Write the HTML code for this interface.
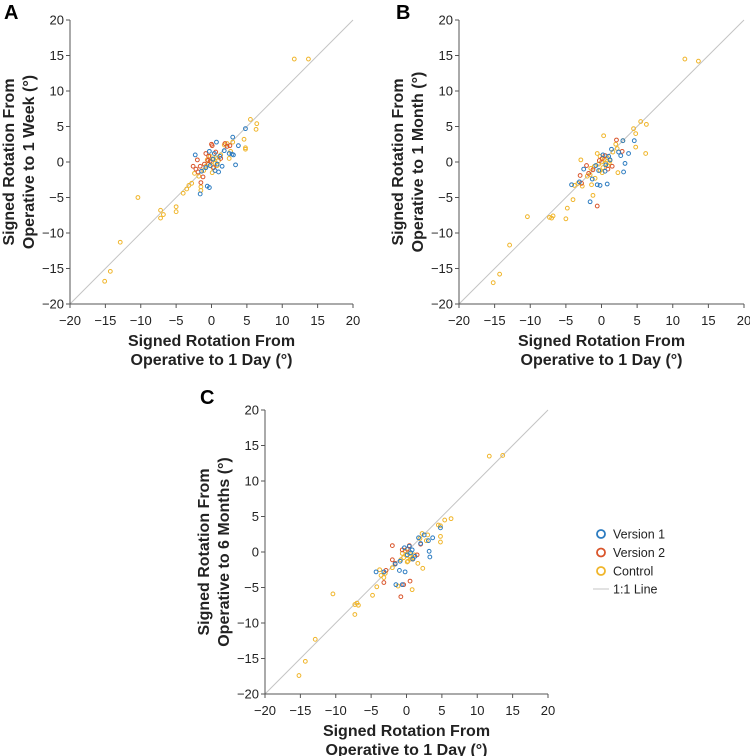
<!DOCTYPE html>
<html><head><meta charset="utf-8"><style>
html,body{margin:0;padding:0;background:#fff}
svg{display:block;font-family:"Liberation Sans",Arial,sans-serif}
</style></head><body>
<svg id="chart" width="750" height="756" viewBox="0 0 750 756"></svg>
<script>
const ticks=[-20,-15,-10,-5,0,5,10,15,20];
const tickLabels=["\u221220","\u221215","\u221210","\u22125","0","5","10","15","20"];
const panelLetters=["A","B","C"];
const yTitles=["Operative to 1 Week (\u00b0)","Operative to 1 Month (\u00b0)","Operative to 6 Months (\u00b0)"];
const seriesNames=["Version 1","Version 2","Control"];
const colors=["#2b7bc0","#d9542a","#f0b52a"];
// Panel A
const aV1x=[4.8,3,0.7,-2.3,-0.6,-0.3,-1.6,3.4,3.8,3.1,2.9,0.5,1,1.2,-0.3,0.4,-0.8,1.5,2.5,-1.4,0.8,0.2,-0.2,1.8];
const aV1y=[4.7,3.5,2.8,1,-3.4,-3.6,-4.5,-0.4,2.3,1.0,1.1,-1.2,-1.4,0.8,1.5,1.2,-0.8,-0.6,1.2,-1.3,-0.3,0.4,-0.5,1.6];
const aV2x=[-2.6,-2,-1.9,-1.5,0.1,0,-0.8,-0.4,2.2,2.6,1.9,-1.2,-1,-0.5,0.6,1.3,-1.6,-2.2,0.3,-0.2];
const aV2y=[-0.6,0.3,-1.4,-2.9,2.3,2.5,1.2,0.8,2.2,2.3,2.6,-2.1,-0.3,0.2,1.4,0.5,-0.6,-1,-0.8,0.1];
const aCx=[11.7,13.7,5.5,6.4,6.3,4.6,4.8,4.8,-10.4,-7.2,-7.2,-6.8,-5,-5,-12.9,-14.3,-15.1,-4,-3.5,-3.2,-2.8,-1.5,-1.5,3,2.2,1.8,2.7,2.5,0,0.3,-0.4,0.6,-0.8,1,0.2,-0.2,0.5,-1.1,1.3,-0.6,0.8,0.1,-1.8,-2.4];
const aCy=[14.5,14.5,6,5.4,4.6,3.2,2,1.8,-5,-6.8,-7.9,-7.4,-6.3,-7,-11.3,-15.4,-16.8,-4.4,-3.8,-3.3,-3,-3.5,-4,2.8,2.6,2.4,1.5,0.5,0,0.4,-0.3,0.6,-0.6,0.2,-0.8,0.8,-0.2,-1.2,1,0.3,-0.5,-1.5,-2,-1.6];
// Panel B
const bV1x=[4.6,3,1.4,-1.6,-0.6,-0.2,-4.2,-3.1,0.8,2.7,3.3,3.8,3.1,0.5,1.0,-0.8,1.2,0.2,-0.4,-1.3,2.4,0.6,-2.5];
const bV1y=[3,3,1.8,-5.6,-3.2,-3.3,-3.2,-2.8,-3.1,0.9,-0.2,1.2,-1.4,-1.3,0.8,-0.5,0.3,1,-1.2,-2.4,1.4,-0.4,-1];
const bV2x=[2.1,-0.6,-2.1,-1.8,-1.2,-3,0.5,0.1,2.9,-0.3,1.5,-2.8,0.9];
const bV2y=[3.1,-6.2,-0.5,-1.6,-1.1,-1.9,0.9,0.5,1.5,0.2,-0.6,-3,-1];
const bCx=[11.7,13.6,5.5,6.3,6.2,4.5,4.8,4.8,-10.4,-7.3,-7,-6.8,-5,-4.8,-12.9,-14.3,-15.2,-4,-3.8,-3.3,-2.7,-1.4,-1.2,0.3,2.2,2.3,3,2,0,0.4,-0.4,0.8,-1,1.2,0.2,-0.2,0.6,-1.6,1.6,-0.6,0.9,0.1,-2,-2.9,-0.9,-0.2,1.1,-1.5];
const bCy=[14.5,14.2,5.7,5.3,1.2,4.7,4,2.1,-7.7,-7.8,-7.9,-7.6,-8,-6.5,-11.7,-15.8,-17,-5.3,-3.3,-3,-3.4,-3.2,-4.7,3.7,1.9,-1.5,3,2.5,0,0.4,-0.3,0.6,-0.6,0.2,-0.8,0.8,-0.2,-1.8,1.4,1.2,-0.5,-1.5,-2,0.3,-2.3,-1.2,-0.1,-0.9];
// Panel C
const cV1x=[4.8,3.3,2.5,1.7,0.8,-0.6,-0.2,-1.5,-4.3,-3.2,-1.6,-1,0.9,3.2,3.7,3.1,0.4,1.2,-0.3,0.1,-0.9,2,0.6];
const cV1y=[3.4,-0.7,2.4,2,0.3,-4.6,-2.8,-4.6,-2.8,-2.8,-1.7,-2.6,-1,0.1,2,1.6,0.8,-0.6,0.6,-0.4,-1.3,1.2,-0.1];
const cV2x=[-2,-0.8,-0.4,-2,-1.6,-3.2,0.4,0.1,2,0.5,1.5,-2.9,0.9,-0.6];
const cV2y=[0.9,-6.3,-4.6,-1.1,-1.6,-4.3,0.9,0.4,1.1,-4.1,-0.4,-2.6,-1,0.3];
const cCx=[11.7,13.6,5.4,6.3,4.8,4.5,4.8,4.8,-10.4,-7.3,-7,-6.8,-4.8,-4.2,-12.9,-14.3,-15.2,-3.8,-3.6,-3.2,-3,-1.2,0.8,2.3,2.2,1.9,3,2.8,0,0.4,-0.4,0.6,-0.8,1.1,0.2,-0.2,0.5,-1.6,1.6,-0.6,0.8,0.1,-2,-7.3];
const cCy=[13.5,13.6,4.5,4.7,3.7,3.8,2.2,1.4,-5.9,-7.4,-7.2,-7.5,-6.1,-4.9,-12.3,-15.4,-17.4,-2.5,-3.3,-3.6,-3,-4.8,-5.3,-2.3,2.6,1.9,2.4,1.6,-0.5,-0.2,-0.8,-1,-1.1,-0.4,-1.3,0.2,-0.7,-1.7,-1.6,-0.2,-0.9,-1.4,-2.2,-8.8];

const panels=[
 {x0:70,x1:353,y0:304,y1:20,lx:4,ly:19,xs:[[aV1x,aV1y],[aV2x,aV2y],[aCx,aCy]]},
 {x0:459,x1:744,y0:304,y1:20,lx:396,ly:19,xs:[[bV1x,bV1y],[bV2x,bV2y],[bCx,bCy]]},
 {x0:265,x1:548,y0:694,y1:410,lx:200,ly:404,xs:[[cV1x,cV1y],[cV2x,cV2y],[cCx,cCy]]}
];
const NS="http://www.w3.org/2000/svg";
const svg=document.getElementById('chart');
function mk(tag,attrs,parent){const e=document.createElementNS(NS,tag);for(const k in attrs)e.setAttribute(k,attrs[k]);parent.appendChild(e);return e;}
panels.forEach((p,i)=>{
 const sx=v=>p.x0+(v+20)/40*(p.x1-p.x0);
 const sy=v=>p.y0+(v+20)/40*(p.y1-p.y0);
 const g=mk('g',{},svg);
 
 
 const L=mk('text',{x:p.lx,y:p.ly,'font-size':20,'font-weight':'bold',fill:'#000'},g);L.textContent=panelLetters[i];
 
 
 const ref=mk('line',{x1:sx(-20),y1:sy(-20),x2:sx(20),y2:sy(20),stroke:'#c4c4c4','stroke-width':1},g);
 
 
 const ax=mk('path',{d:`M${p.x0},${p.y1}V${p.y0}H${p.x1}`,stroke:'#555',fill:'none','stroke-width':1},g);
 
 
 ticks.forEach((t,j)=>{
  mk('line',{x1:p.x0-4,x2:p.x0,y1:sy(t),y2:sy(t),stroke:'#555'},g);
  mk('line',{x1:sx(t),x2:sx(t),y1:p.y0,y2:p.y0+4,stroke:'#555'},g);
  const ty=mk('text',{x:p.x0-6,y:sy(t)+4.5,'font-size':13,'text-anchor':'end',fill:'#222'},g);ty.textContent=tickLabels[j];
  
  
  const tx=mk('text',{x:sx(t),y:p.y0+21,'font-size':13,'text-anchor':'middle',fill:'#222'},g);tx.textContent=tickLabels[j];
  
  
 });
 const cx=(p.x0+p.x1)/2, cy=(p.y0+p.y1)/2;
 const xt=mk('text',{x:cx,y:p.y0+42,'font-size':16,'font-weight':'bold','text-anchor':'middle',fill:'#222'},g);
 
 
 mk('tspan',{x:cx,dy:0},xt).textContent="Signed Rotation From";
 mk('tspan',{x:cx,dy:19},xt).textContent="Operative to 1 Day (\u00b0)";
 const yx=p.x0-56;
 const yt=mk('text',{transform:`translate(${yx},${cy}) rotate(-90)`,'font-size':16,'font-weight':'bold','text-anchor':'middle',fill:'#222'},g);
 
 
 mk('tspan',{x:0,dy:0},yt).textContent="Signed Rotation From";
 mk('tspan',{x:0,dy:20},yt).textContent=yTitles[i];
 [2,1,0].forEach(s=>{
  const [X,Y]=p.xs[s];
  X.forEach((v,k)=>{
   const c=mk('circle',{cx:sx(v),cy:sy(Y[k]),r:1.9,fill:'none',stroke:colors[s],'stroke-width':1},g);
   
   
  });
 });
});
const lg=mk('g',{},svg);


seriesNames.forEach((n,i)=>{
 const y=534+i*18.5;
 mk('circle',{cx:601,cy:y,r:4,fill:'none',stroke:colors[i],'stroke-width':1.8},lg);
 const t=mk('text',{x:613,y:y+4.5,'font-size':12.5,fill:'#222'},lg);t.textContent=n;
 
 
});
mk('line',{x1:593,x2:609,y1:589,y2:589,stroke:'#c4c4c4'},lg);
const lt=mk('text',{x:613,y:593.5,'font-size':12.5,fill:'#222'},lg);lt.textContent="1:1 Line";


</script>
</body></html>
